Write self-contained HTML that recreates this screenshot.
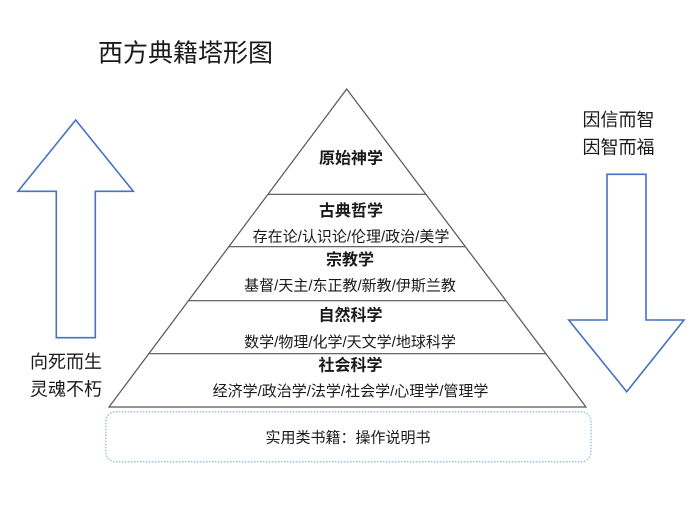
<!DOCTYPE html>
<html>
<head>
<meta charset="utf-8">
<style>
  html, body { margin: 0; padding: 0; background: #ffffff; }
  body { width: 700px; height: 525px; overflow: hidden; }
  svg { display: block; }
  text { font-family: "Liberation Sans", "Noto Sans CJK SC", sans-serif; fill: #1a1a1a; }
  .b { font-weight: bold; }
</style>
</head>
<body>
<svg width="700" height="525" viewBox="0 0 700 525" xmlns="http://www.w3.org/2000/svg">
  <!-- Title -->
  <text x="98" y="61.5" font-size="25">西方典籍塔形图</text>

  <!-- Left up arrow -->
  <polygon points="75.7,120 133.3,191.3 95.3,191.3 95.3,337.7 56.3,337.7 56.3,191.3 18,191.3"
           fill="none" stroke="#4472C4" stroke-width="1.6" stroke-linejoin="miter"/>
  <text x="66" y="367.8" font-size="18" text-anchor="middle">向死而生</text>
  <text x="66" y="395.3" font-size="18" text-anchor="middle">灵魂不朽</text>

  <!-- Right down arrow -->
  <polygon points="607,174.3 646,174.3 646,320 684,320 626.7,391.7 568.7,320 607,320"
           fill="none" stroke="#4472C4" stroke-width="1.6" stroke-linejoin="miter"/>
  <text x="618.5" y="125.8" font-size="18" text-anchor="middle">因信而智</text>
  <text x="618.5" y="153.3" font-size="18" text-anchor="middle">因智而福</text>

  <!-- Pyramid -->
  <polygon points="346.7,89 586,407 109,407" fill="none" stroke="#555555" stroke-width="1.2"/>
  <line x1="268" y1="194.3" x2="425.9" y2="194.3" stroke="#555555" stroke-width="1.2"/>
  <line x1="228.8" y1="246.7" x2="465.4" y2="246.7" stroke="#555555" stroke-width="1.2"/>
  <line x1="188.5" y1="300.7" x2="506" y2="300.7" stroke="#555555" stroke-width="1.2"/>
  <line x1="148.8" y1="353.7" x2="545.9" y2="353.7" stroke="#555555" stroke-width="1.2"/>

  <!-- Pyramid texts -->
  <text class="b" x="351" y="163.6" font-size="16" text-anchor="middle">原始神学</text>
  <text class="b" x="351" y="216" font-size="16" text-anchor="middle">古典哲学</text>
  <text x="351" y="241.7" font-size="15" text-anchor="middle">存在论/认识论/伦理/政治/美学</text>
  <text class="b" x="350" y="265" font-size="16" text-anchor="middle">宗教学</text>
  <text x="350" y="290.7" font-size="15" text-anchor="middle">基督/天主/东正教/新教/伊斯兰教</text>
  <text class="b" x="350.5" y="320.6" font-size="16" text-anchor="middle">自然科学</text>
  <text x="350" y="347.2" font-size="15" text-anchor="middle">数学/物理/化学/天文学/地球科学</text>
  <text class="b" x="350.5" y="370.6" font-size="16" text-anchor="middle">社会科学</text>
  <text x="350.5" y="396.2" font-size="15" text-anchor="middle">经济学/政治学/法学/社会学/心理学/管理学</text>

  <!-- Dotted base box -->
  <rect x="105.7" y="411.7" width="485.3" height="50" rx="10" ry="10"
        fill="none" stroke="#9DC3E6" stroke-width="1.5" stroke-dasharray="1.5 1.5"/>
  <text x="348" y="442.7" font-size="15" text-anchor="middle">实用类书籍：操作说明书</text>
</svg>
</body>
</html>
